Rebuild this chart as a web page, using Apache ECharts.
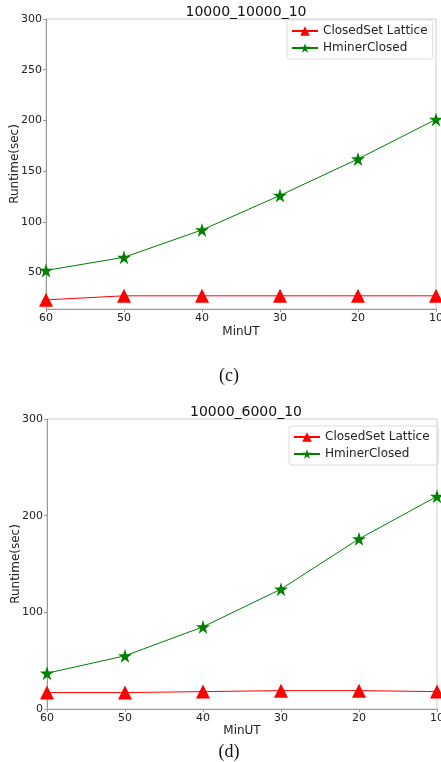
<!DOCTYPE html>
<html>
<head>
<meta charset="utf-8">
<script src="https://cdn.jsdelivr.net/npm/echarts@6/dist/echarts.min.js"></script>
<style>
  html, body { margin: 0; padding: 0; background: #fff; }
  #chart { width: 441px; height: 762px; }
</style>
</head>
<body>
<div id="chart"></div>
<script>
  // MinUT values on the x axis (drawn right-to-left: 60 ... 10)
  var minUT = [60, 50, 40, 30, 20, 10];

  // (c) 10000_10000_10
  var closedC = [23, 27, 27, 27, 27, 27];
  var hminerC = [52, 65, 92, 126, 162, 201];
  var yTicksC = [50, 100, 150, 200, 250, 300];

  // (d) 10000_6000_10
  var closedD = [17, 17, 18, 19, 19, 18];
  var hminerD = [37, 55, 85, 124, 176, 220];
  var yTicksD = [0, 100, 200, 300];

  var starPath = "path://M10 0 L12.245 6.910 L19.511 6.910 L13.633 11.180 L15.878 18.090 L10 13.820 L4.122 18.090 L6.367 11.180 L0.489 6.910 L7.755 6.910 Z";
  var font = "DejaVu Sans";

  function pairs(vals) {
    return minUT.map(function (x, i) {
      return [x, vals[i]];
    });
  }

  function xAxis(idx, gap) {
    return {
      gridIndex: idx,
      type: "value",
      min: 10,
      max: 60,
      interval: 10,
      inverse: true,
      name: "MinUT",
      nameLocation: "middle",
      nameGap: gap,
      nameTextStyle: { fontFamily: font, fontSize: 12, color: "#222" },
      splitLine: { show: false },
      axisLine: { lineStyle: { color: "#999" } },
      axisTick: { length: 3, lineStyle: { color: "#999" } },
      axisLabel: { fontFamily: font, fontSize: 11, color: "#222", margin: 4 },
    };
  }

  function yAxis(idx, min, max, ticks) {
    return {
      gridIndex: idx,
      type: "value",
      min: min,
      max: max,
      name: "Runtime(sec)",
      nameLocation: "middle",
      nameGap: 25,
      nameMoveOverlap: false,
      nameTextStyle: { fontFamily: font, fontSize: 12, color: "#222" },
      splitLine: { show: false },
      axisLine: { show: true, lineStyle: { color: "#999" } },
      axisTick: { show: true, length: 3, customValues: ticks, lineStyle: { color: "#999" } },
      axisLabel: { fontFamily: font, fontSize: 11, color: "#222", margin: 4, customValues: ticks },
    };
  }

  function lineSeries(name, idx, vals, color, symbol, size) {
    return {
      name: name,
      type: "line",
      xAxisIndex: idx,
      yAxisIndex: idx,
      data: pairs(vals),
      symbol: symbol,
      symbolSize: size,
      showAllSymbol: true,
      clip: true,
      lineStyle: { color: color, width: 1 },
      itemStyle: { color: color },
      animation: false,
    };
  }

  function legend(left, top) {
    return {
      orient: "vertical",
      left: left,
      top: top,
      itemWidth: 26,
      itemHeight: 12,
      itemGap: 5,
      padding: [5, 5, 5, 4],
      borderColor: "#ddd",
      borderWidth: 1,
      borderRadius: 3,
      textStyle: { fontFamily: font, fontSize: 12, color: "#222" },
    };
  }

  var chart = echarts.init(document.getElementById("chart"));
  var legendC = legend(287, 20);
  legendC.data = ["ClosedSet Lattice", "HminerClosed"];
  var legendD = legend(289, 426);
  legendD.data = ["ClosedSet Lattice ", "HminerClosed "];

  var option = {
    backgroundColor: "#fff",
    title: [
      { text: "10000_10000_10", left: 241, top: 0, textAlign: "center",
        textStyle: { fontFamily: font, fontSize: 14, fontWeight: "normal", color: "#111" } },
      { text: "10000_6000_10", left: 241, top: 400, textAlign: "center",
        textStyle: { fontFamily: font, fontSize: 14, fontWeight: "normal", color: "#111" } },
      { text: "(c)", left: 224, top: 362, textAlign: "center",
        textStyle: { fontFamily: "Liberation Serif", fontSize: 18, fontWeight: "normal", color: "#111" } },
      { text: "(d)", left: 224, top: 738, textAlign: "center",
        textStyle: { fontFamily: "Liberation Serif", fontSize: 18, fontWeight: "normal", color: "#111" } },
    ],
    legend: [legendC, legendD],
    grid: [
      { left: 46, top: 19, width: 390, height: 290, outerBoundsMode: "none",
        show: true, borderColor: "#ccc", borderWidth: 1, backgroundColor: "transparent" },
      { left: 47, top: 419, width: 390, height: 290, outerBoundsMode: "none",
        show: true, borderColor: "#ccc", borderWidth: 1, backgroundColor: "transparent" },
    ],
    xAxis: [xAxis(0, 17), xAxis(1, 16)],
    yAxis: [yAxis(0, 14, 300, yTicksC), yAxis(1, 0, 300, yTicksD)],
    series: [
      lineSeries("ClosedSet Lattice", 0, closedC, "#ff0000", "triangle", 14),
      lineSeries("HminerClosed", 0, hminerC, "#008000", starPath, 14),
      lineSeries("ClosedSet Lattice ", 1, closedD, "#ff0000", "triangle", 14),
      lineSeries("HminerClosed ", 1, hminerD, "#008000", starPath, 14),
    ],
  };

  chart.setOption(option);
</script>
</body>
</html>
